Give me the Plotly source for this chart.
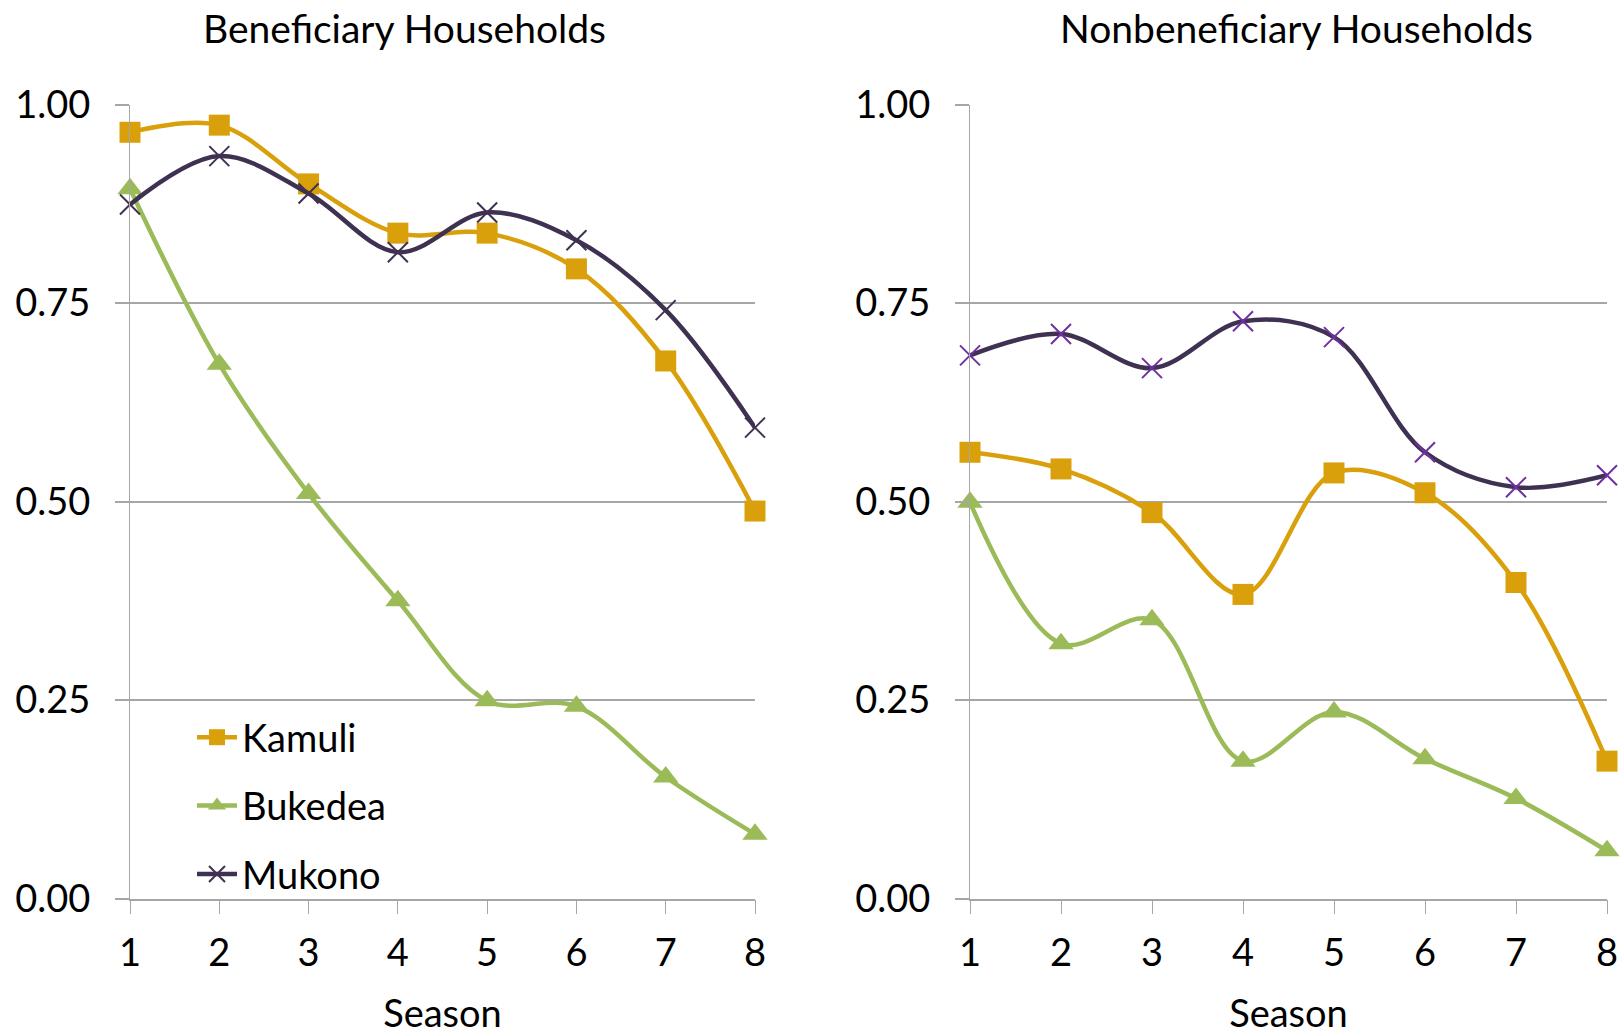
import plotly.graph_objects as go

seasons = [1, 2, 3, 4, 5, 6, 7, 8]
districts = ["Kamuli", "Bukedea", "Mukono"]

# Beneficiary households
ben_kamuli = [0.965, 0.974, 0.900, 0.838, 0.838, 0.793, 0.677, 0.488]
ben_bukedea = [0.894, 0.673, 0.510, 0.375, 0.249, 0.242, 0.153, 0.081]
ben_mukono = [0.874, 0.935, 0.888, 0.814, 0.864, 0.829, 0.741, 0.593]

# Nonbeneficiary households
non_kamuli = [0.562, 0.541, 0.486, 0.383, 0.536, 0.511, 0.398, 0.173]
non_bukedea = [0.499, 0.321, 0.351, 0.173, 0.235, 0.176, 0.126, 0.060]
non_mukono = [0.684, 0.711, 0.668, 0.727, 0.707, 0.562, 0.518, 0.533]

y_ticks = [0, 0.25, 0.5, 0.75, 1.0]
panel_titles = ["Beneficiary Households", "Nonbeneficiary Households"]
x_title = "Season"

FONT = "Lato"
FS = 38
W, H = 1623, 1035
GRID = "#A6A6A6"

line_colors = {"Kamuli": "#D9A00C", "Bukedea": "#9BBB59", "Mukono": "#3F3151"}
symbols = {"Kamuli": "square", "Bukedea": "triangle-up", "Mukono": "x-thin"}
sizes = {"Kamuli": 21, "Bukedea": 22, "Mukono": 20}

fig = go.Figure()

panels = [
    ("x", "y", {"Kamuli": ben_kamuli, "Bukedea": ben_bukedea, "Mukono": ben_mukono}, True),
    ("x2", "y2", {"Kamuli": non_kamuli, "Bukedea": non_bukedea, "Mukono": non_mukono}, False),
]

for xa, ya, data, show_leg in panels:
    for d in districts:
        mcol = line_colors[d]
        if d == "Mukono" and not show_leg:
            mcol = "#7030A0"
        marker = dict(symbol=symbols[d], size=sizes[d], color=mcol)
        if d == "Mukono":
            marker["line"] = dict(color=mcol, width=2)
        fig.add_trace(go.Scatter(
            x=seasons, y=data[d], name=d, xaxis=xa, yaxis=ya,
            mode="lines+markers",
            line=dict(color=line_colors[d], width=4.5, shape="spline", smoothing=1),
            marker=marker, cliponaxis=False,
            showlegend=show_leg, legendgroup=d,
        ))

# Domains in pixel terms
def px_x(p):
    return p / W

def px_y(p):
    return 1 - p / H

x1_dom = [px_x(130), px_x(755)]
x2_dom = [px_x(970), px_x(1607)]
y_dom = [px_y(898.5), px_y(104.5)]

common_x = dict(
    range=[1, 8], tickvals=seasons, showgrid=False, zeroline=False,
    showline=True, linecolor=GRID, linewidth=1.5,
    ticks="outside", ticklen=14, tickcolor=GRID, tickwidth=1.2,
    ticklabelstandoff=6, automargin=False,
    tickfont=dict(family=FONT, size=FS, color="#000"),
    title=dict(text=x_title, font=dict(family=FONT, size=FS, color="#000"), standoff=29),
)
common_y = dict(
    range=[0, 1], tickvals=y_ticks, tickformat=".2f", showgrid=True,
    gridcolor=GRID, gridwidth=1.5, zeroline=False,
    showline=True, linecolor=GRID, linewidth=1.2,
    ticks="outside", ticklen=14, tickcolor=GRID, tickwidth=1.5,
    ticklabelstandoff=17, automargin=False,
    tickfont=dict(family=FONT, size=FS, color="#000"),
)

fig.update_layout(
    width=W, height=H,
    margin=dict(l=0, r=0, t=0, b=0, autoexpand=False),
    paper_bgcolor="white", plot_bgcolor="white",
    font=dict(family=FONT, size=FS, color="#000"),
    xaxis=dict(domain=x1_dom, anchor="y", **common_x),
    yaxis=dict(domain=y_dom, anchor="x", **common_y),
    xaxis2=dict(domain=x2_dom, anchor="y2", **common_x),
    yaxis2=dict(domain=y_dom, anchor="x2", **common_y),
    legend=dict(
        x=px_x(192), y=px_y(806), xanchor="left", yanchor="middle",
        bgcolor="rgba(0,0,0,0)", font=dict(family=FONT, size=FS, color="#000"),
        traceorder="grouped", tracegroupgap=16, itemwidth=40,
    ),
    showlegend=True,
    annotations=[
        dict(text=panel_titles[0], x=px_x(404), y=px_y(28), xref="paper", yref="paper",
             showarrow=False, xanchor="center", yanchor="middle",
             font=dict(family=FONT, size=39, color="#000")),
        dict(text=panel_titles[1], x=px_x(1296), y=px_y(28), xref="paper", yref="paper",
             showarrow=False, xanchor="center", yanchor="middle",
             font=dict(family=FONT, size=39, color="#000")),
    ],
)

fig.write_html("out.html", config={"displayModeBar": False})

with open("out.html", "r", encoding="utf-8") as f:
    html = f.read()
html = html.replace("<body>", '<body style="margin:0;padding:0;overflow:hidden">', 1)
with open("out.html", "w", encoding="utf-8") as f:
    f.write(html)
